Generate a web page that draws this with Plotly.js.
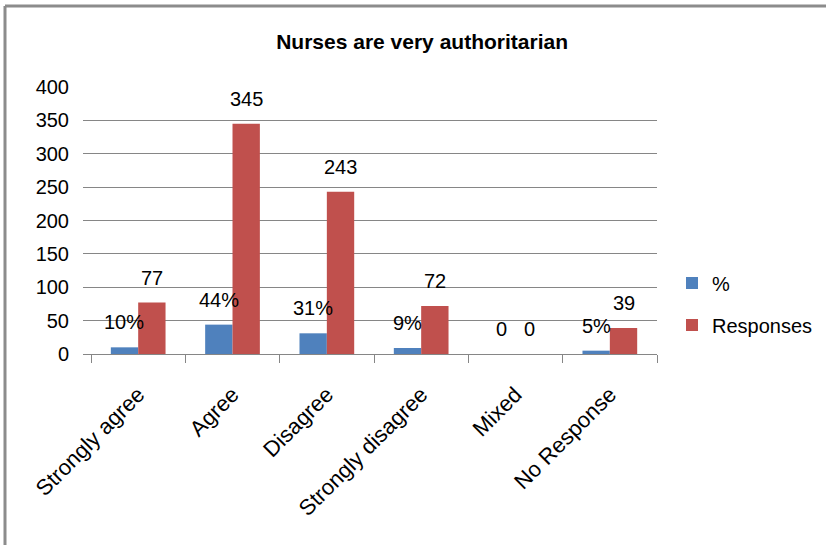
<!DOCTYPE html>
<html>
<head>
<meta charset="utf-8">
<script src="https://cdn.plot.ly/plotly-3.0.1.min.js"></script>
<style>html,body{margin:0;padding:0;background:#fff;}#chart{width:826px;height:545px;}</style>
</head>
<body>
<div id="chart"></div>
<script>
var categories = ["Strongly agree", "Agree", "Disagree", "Strongly disagree", "Mixed", "No Response"];
var percentValues = [10, 44, 31, 9, 0, 5];
var percentLabels = ["10%", "44%", "31%", "9%", "0", "5%"];
var responseValues = [77, 345, 243, 72, 0, 39];
var responseLabels = ["77", "345", "243", "72", "0", "39"];
var yTicks = [0, 50, 100, 150, 200, 250, 300, 350, 400];

var FONT = "Liberation Sans, Arial, sans-serif";
var BLUE = "#4F81BD", RED = "#C0504D", GRID = "#868686";

var traces = [
  {type: "bar", name: "%", x: categories, y: percentValues, marker: {color: BLUE},
   legendgroup: "a", hoverinfo: "x+y"},
  {type: "bar", name: "Responses", x: categories, y: responseValues, marker: {color: RED},
   legendgroup: "b", hoverinfo: "x+y"}
];

var annotations = [];
function addLabels(vals, labels, shift) {
  for (var i = 0; i < categories.length; i++) {
    annotations.push({x: categories[i], y: vals[i], xref: "x", yref: "y", text: labels[i],
      showarrow: false, xanchor: "center", yanchor: "bottom", xshift: shift, yshift: 12,
      font: {family: FONT, size: 20, color: "#000"}});
  }
}
addLabels(percentValues, percentLabels, -13.7);
addLabels(responseValues, responseLabels, 13.7);

function px2x(p) { return (p - 83) / 574; }
function px2y(p) { return (354 - p) / 267; }

var layout = {
  width: 826, height: 545,
  margin: {l: 83, r: 169, t: 87, b: 191, pad: 0, autoexpand: false},
  paper_bgcolor: "#fff", plot_bgcolor: "#fff",
  font: {family: FONT, size: 20, color: "#000"},
  title: {text: "Nurses are very authoritarian", font: {family: FONT, size: 21, color: "#000", weight: "bold"},
          x: 0.511, xref: "container", xanchor: "center", y: 0.923, yref: "container", yanchor: "middle"},
  barmode: "group", bargap: 0.42, bargroupgap: 0,
  showlegend: true,
  legend: {xref: "container", yref: "container", x: 672 / 826, xanchor: "left", y: 1 - 304 / 545, yanchor: "middle",
           traceorder: "grouped", tracegroupgap: 13,
           font: {family: FONT, size: 20, color: "#000"}, bgcolor: "rgba(0,0,0,0)"},
  xaxis: {type: "category", range: [-0.585, 5.5], tickangle: -45, tickson: "boundaries",
          ticks: "outside", ticklen: 8, tickcolor: GRID, tickwidth: 1, ticklabelstandoff: 18,
          showline: true, linecolor: GRID, linewidth: 1, showgrid: false, zeroline: false,
          tickfont: {family: FONT, size: 22, color: "#000"}, fixedrange: true},
  yaxis: {range: [0, 400], tickvals: yTicks, ticktext: yTicks.map(String), ticks: "",
          showgrid: true, gridcolor: GRID, gridwidth: 1, zeroline: false, showline: false,
          ticklabelstandoff: 13, tickfont: {family: FONT, size: 20, color: "#000"}, fixedrange: true},
  annotations: annotations,
  shapes: [
    {type: "line", xref: "paper", yref: "paper", x0: px2x(5), x1: px2x(5),
     y0: px2y(6), y1: px2y(545), line: {color: "#8c8c8c", width: 3}},
    {type: "line", xref: "paper", yref: "paper", x0: px2x(5), x1: px2x(826),
     y0: px2y(6), y1: px2y(6), line: {color: "#8c8c8c", width: 3}}
  ]
};

Plotly.newPlot("chart", traces, layout, {displayModeBar: false, staticPlot: true});
</script>
</body>
</html>
